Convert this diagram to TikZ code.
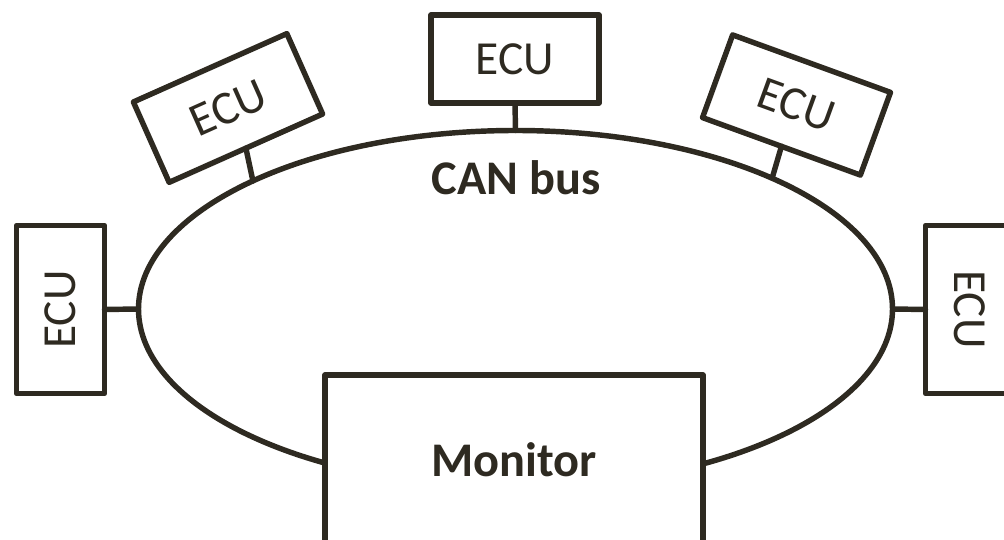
\documentclass[tikz,border=0pt]{standalone}
\usepackage{fontspec}
\setmainfont{Carlito}
\usetikzlibrary{shapes.geometric}
\definecolor{ink}{HTML}{2E2A21}
\tikzset{
  every picture/.style={line join=round, line cap=round},
  unit/.style={draw=ink, line width=3.1pt, fill=white, inner sep=0pt, outer sep=0pt, text=ink},
  ecu/.style={unit, minimum width=3.36cm, minimum height=1.76cm, font=\fontsize{27}{30}\selectfont},
  stub/.style={draw=ink, line width=3.1pt},
}

\begin{document}
\begin{tikzpicture}
\clip (0,0) rectangle (20.08,10.8);
% bus ring
\node[draw=ink, line width=3.1pt, ellipse, inner sep=0pt, outer sep=0pt,
      minimum width=15.08cm, minimum height=7.14cm] (bus) at (10.31,4.62) {};
\node[text=ink, font=\fontsize{27.5}{30}\selectfont\bfseries] (buslabel) at (10.32,7.24) {CAN bus};
% control units
\node[ecu] (ecuT) at (10.30,9.62) {ECU};
\node[ecu, rotate=24] (ecuTL) at (4.56,8.64) {ECU};
\node[ecu, rotate=-20] (ecuTR) at (15.93,8.70) {ECU};
\node[ecu, rotate=90] (ecuL) at (1.21,4.61) {ECU};
\node[ecu, rotate=-90] (ecuR) at (19.39,4.61) {ECU};
\draw[stub] (ecuT.south) -- (bus.north);
\draw[stub] (ecuTL.south) -- (bus.154);
\draw[stub] (ecuTR.south) -- (bus.27);
\draw[stub] (ecuL.south) -- (bus.west);
\draw[stub] (ecuR.south) -- (bus.east);
% monitor sits over the ring
\node[unit, minimum width=7.56cm, minimum height=3.4cm,
      font=\fontsize{27.5}{30}\selectfont\bfseries] (mon) at (10.28,1.60) {Monitor};
\end{tikzpicture}
\end{document}
